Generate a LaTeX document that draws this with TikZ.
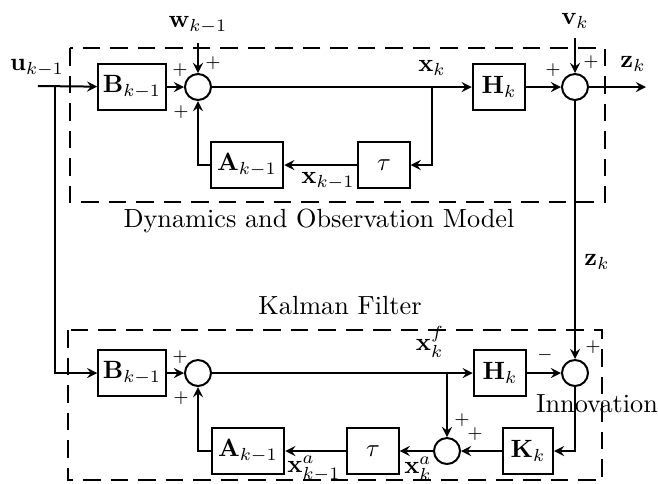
\documentclass[tikz,border=0pt]{standalone}
\usepackage{amsmath}
\begin{document}
\begin{tikzpicture}[>=stealth, x=0.4pt, y=-0.4pt, thick,
    block/.style={draw, minimum width=#1, minimum height=18.2pt, inner sep=1pt},
    sum/.style={draw, circle, minimum size=10.4pt, inner sep=0pt},
    sign/.style={font=\scriptsize, inner sep=0pt},
    frame/.style={dashed, dash pattern=on 7pt off 4pt}]
            \useasboundingbox (0,0) rectangle (658,483);
            % Dynamics and Observation Model
            \draw[frame] (70,48) rectangle (605,202);
            \node[font=\fontsize{10.5}{12}\selectfont] (dynlbl) at (319,221) {Dynamics and Observation Model};
            \node (u) at (37,68) {$\mathbf{u}_{k-1}$};
            \node (w) at (198,25) {$\mathbf{w}_{k-1}$};
            \node (v) at (575,21) {$\mathbf{v}_k$};
            \coordinate (uin) at (38,86);
            \coordinate (j0) at (55,86);
            \node[block=27pt] (b1) at (132,87) {$\mathbf{B}_{k-1}$};
            \node[sum] (s1) at (198,87) {};
            \node[block=29pt] (a1) at (247,165) {$\mathbf{A}_{k-1}$};
            \node[block=20.5pt] (t1) at (384,165) {$\tau$};
            \coordinate (j1) at (432,87);
            \node[block=21pt] (h1) at (499,87) {$\mathbf{H}_k$};
            \node[sum] (s2) at (575,87) {};
            \coordinate (zout) at (646,87);
            \node (xk) at (432,68) {$\mathbf{x}_k$};
            \node (xkm) at (328,181) {$\mathbf{x}_{k-1}$};
            \node (zk) at (633,64) {$\mathbf{z}_k$};
            \draw[->] (uin) -- (b1);
            \draw[->] (b1) -- (s1);
            \draw[->] (w) -- (s1);
            \draw[->] (s1) -- (h1);
            \draw[->] (j1) |- (t1);
            \draw[->] (t1) -- (a1);
            \draw[->] (a1) -| (s1);
            \draw[->] (h1) -- (s2);
            \draw[->] (v) -- (s2);
            \draw[->] (s2) -- (zout);
            \node[sign] (p1) at (180,70) {$+$};
            \node[sign] (p2) at (213,63) {$+$};
            \node[sign] (p3) at (181,112) {$+$};
            \node[sign] (p4) at (553,70) {$+$};
            \node[sign] (p5) at (591,62) {$+$};
            % Kalman Filter
            \draw[frame] (68,330) rectangle (602,480);
            \node[font=\fontsize{10.5}{12}\selectfont] (kflbl) at (340,306) {Kalman Filter};
            \node (zk2) at (597,262) {$\mathbf{z}_k$};
            \node[block=27pt] (b2) at (132,373) {$\mathbf{B}_{k-1}$};
            \node[sum] (s3) at (198,373) {};
            \coordinate (j2) at (447,373);
            \node[block=21pt] (h2) at (500,373) {$\mathbf{H}_k$};
            \node[sum] (s5) at (575,373) {};
            \node[block=29pt] (a2) at (248,451) {$\mathbf{A}_{k-1}$};
            \node[block=20.5pt] (t2) at (373,451) {$\tau$};
            \node[sum] (s4) at (447,451) {};
            \node[block=20pt] (k) at (528,451) {$\mathbf{K}_k$};
            \node (xf) at (430,342) {$\mathbf{x}_k^f$};
            \node[inner sep=1pt] (xa) at (418,469) {$\mathbf{x}_k^a$};
            \node[inner sep=1pt] (xam) at (314,469) {$\mathbf{x}_{k-1}^a$};
            \node[font=\fontsize{10.5}{12}\selectfont] (innov) at (597,404) {Innovation};
            \draw (uin) -- (j0);
            \draw[->] (j0) |- (b2);
            \draw[->] (s2) -- (s5);
            \draw[->] (b2) -- (s3);
            \draw[->] (s3) -- (h2);
            \draw[->] (j2) -- (s4);
            \draw[->] (h2) -- (s5);
            \draw[->] (s5) |- (k);
            \draw[->] (k) -- (s4);
            \draw[->] (s4) -- (t2);
            \draw[->] (t2) -- (a2);
            \draw[->] (a2) -| (s3);
            \node[sign] (q1) at (180,357) {$+$};
            \node[sign] (q2) at (181,398) {$+$};
            \node[sign] (q3) at (545,355) {$-$};
            \node[sign] (q4) at (593,347) {$+$};
            \node[sign] (q5) at (462,420) {$+$};
            \node[sign] (q6) at (475,434) {$+$};
\end{tikzpicture}
\end{document}
